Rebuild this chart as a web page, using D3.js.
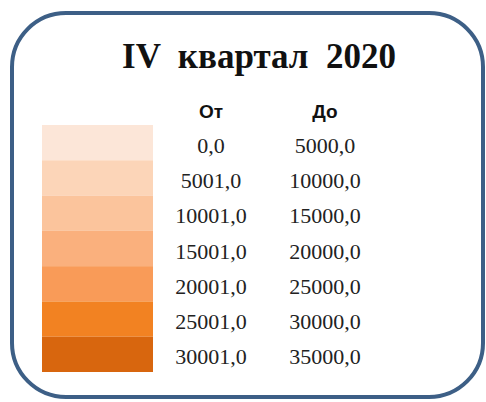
<!DOCTYPE html>
<html><head><meta charset="utf-8">
<script src="https://cdn.jsdelivr.net/npm/d3@7"></script>
<style>body{margin:0;background:#fff;}</style>
</head><body>
<svg id="c" width="486" height="402"></svg>
<script>
const title = "IV  квартал  2020";
const headers = ["От", "До"];
const fromValues = [0, 5001, 10001, 15001, 20001, 25001, 30001];
const toValues = [5000, 10000, 15000, 20000, 25000, 30000, 35000];
const colors = ["#fce6d8", "#fcd5b8", "#fbc49c", "#fab07d", "#f99b58", "#f28222", "#d8660e"];

const svg = d3.select("#c");
const fmt = v => d3.format(".1f")(v).replace(".", ",");

svg.append("rect").attr("x", 12).attr("y", 13).attr("width", 471).attr("height", 384)
  .attr("rx", 54).attr("ry", 54).attr("fill", "#fff").attr("stroke", "#3d5f86").attr("stroke-width", 4);

svg.append("text").attr("x", 259).attr("y", 68).attr("text-anchor", "middle")
  .style("white-space", "pre")
  .attr("font-family", "Liberation Serif, Times New Roman, serif").attr("font-weight", "bold")
  .attr("font-size", 35).attr("fill", "#111").text(title);

const y = d3.scaleBand().domain(d3.range(fromValues.length)).range([125, 372]).padding(0);
const colX = [211, 325];
svg.selectAll("text.h").data(headers).join("text").attr("class", "h")
  .attr("x", (d, i) => colX[i]).attr("y", 118).attr("text-anchor", "middle")
  .attr("font-family", "Liberation Sans, Arial, sans-serif").attr("font-weight", "bold")
  .attr("font-size", 19).attr("fill", "#111").text(d => d);

svg.selectAll("rect.s").data(colors).join("rect").attr("class", "s")
  .attr("x", 42).attr("width", 111).attr("y", (d, i) => y(i)).attr("height", y.bandwidth())
  .attr("fill", d => d);

[fromValues, toValues].forEach((arr, c) => {
  svg.selectAll("text.v" + c).data(arr).join("text").attr("class", "v" + c)
    .attr("x", colX[c]).attr("y", (d, i) => y(i) + y.bandwidth() / 2 + 10)
    .attr("text-anchor", "middle").attr("font-family", "Liberation Serif, Times New Roman, serif")
    .attr("font-size", 22).attr("fill", "#222").text(d => fmt(d));
});
</script>
</body></html>
